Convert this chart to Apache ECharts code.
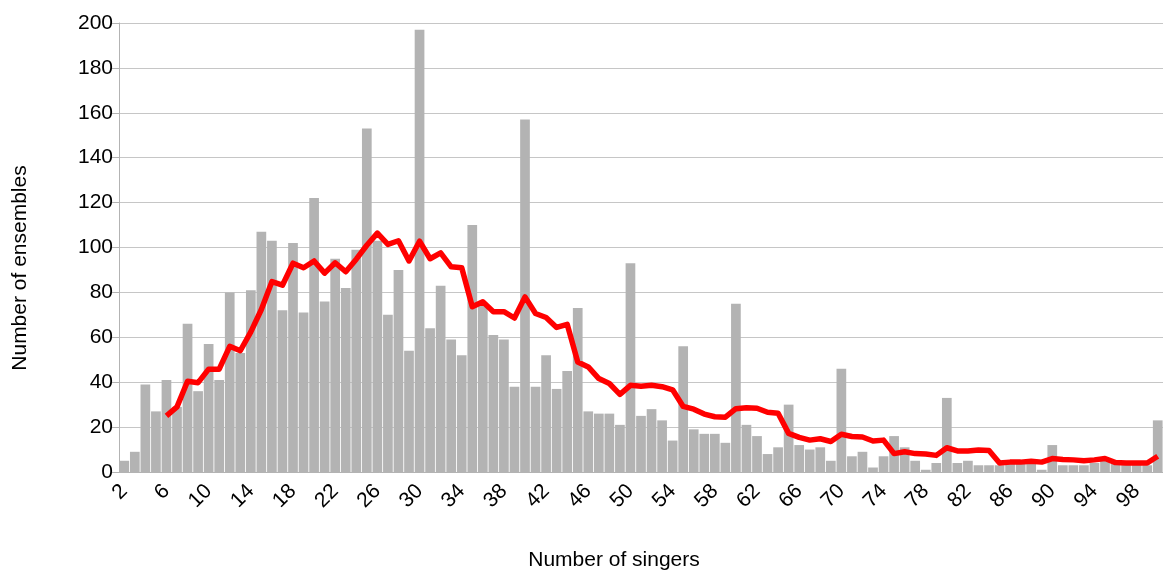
<!DOCTYPE html>
<html>
<head>
<meta charset="utf-8">
<title>Number of singers</title>
<script src="https://cdn.jsdelivr.net/npm/echarts@6/dist/echarts.min.js"></script>
<style>
  html, body { margin: 0; padding: 0; background: #fff; }
  #chart { width: 1163px; height: 572px; }
</style>
</head>
<body>
<div id="chart"></div>
<script>
  // ensemble size (x axis)
  var singers = ['2', '3', '4', '5', '6', '7', '8', '9', '10', '11', '12', '13', '14', '15', '16', '17', '18', '19', '20',
    '21', '22', '23', '24', '25', '26', '27', '28', '29', '30', '31', '32', '33', '34', '35', '36', '37', '38', '39', '40',
    '41', '42', '43', '44', '45', '46', '47', '48', '49', '50', '51', '52', '53', '54', '55', '56', '57', '58', '59', '60',
    '61', '62', '63', '64', '65', '66', '67', '68', '69', '70', '71', '72', '73', '74', '75', '76', '77', '78', '79', '80',
    '81', '82', '83', '84', '85', '86', '87', '88', '89', '90', '91', '92', '93', '94', '95', '96', '97', '98', '99', '100']

  // number of ensembles per size
  var ensembles = [5, 9, 39, 27, 41, 29, 66, 36, 57, 41,
    80, 53, 81, 107, 103, 72, 102, 71, 122, 76,
    95, 82, 99, 153, 103, 70, 90, 54, 197, 64,
    83, 59, 52, 110, 75, 61, 59, 38, 157, 38,
    52, 37, 45, 73, 27, 26, 26, 21, 93, 25,
    28, 23, 14, 56, 19, 17, 17, 13, 75, 21,
    16, 8, 11, 30, 12, 10, 11, 5, 46, 7,
    9, 2, 7, 16, 11, 5, 1, 4, 33, 4,
    5, 3, 3, 3, 5, 5, 4, 1, 12, 3,
    3, 3, 4, 6, 4, 4, 4, 3, 23]

  // red trend line (starts at 6)
  var trend = [null, null, null, null, 25, 29, 40.4, 39.8, 45.8, 45.8,
    56, 54, 62.4, 72.4, 84.8, 83.2, 93, 91, 94, 88.6,
    93.2, 89.2, 94.8, 101, 106.4, 101.4, 103, 94, 102.8, 95,
    97.6, 91.4, 91, 73.6, 75.8, 71.4, 71.4, 68.6, 78, 70.6,
    68.8, 64.4, 65.8, 49, 46.8, 41.6, 39.4, 34.6, 38.6, 38.2,
    38.6, 38, 36.6, 29.2, 28, 25.8, 24.6, 24.4, 28.2, 28.6,
    28.4, 26.6, 26.2, 17.2, 15.4, 14.2, 14.8, 13.6, 16.8, 15.8,
    15.6, 13.8, 14.2, 8.2, 9, 8.2, 8, 7.4, 10.8, 9.4,
    9.4, 9.8, 9.6, 4, 4.4, 4.4, 4.8, 4.4, 6, 5.6,
    5.4, 5, 5.4, 6, 4.2, 4, 4, 4, 7]

  var myChart = echarts.init(document.getElementById('chart'))
  var font = 'Liberation Sans, Arial, sans-serif'

  var option = {
    animation: false,
    backgroundColor: '#fff',
    textStyle: {fontFamily: font},
    grid: {
      left: 119,
      top: 23,
      width: 1048,
      height: 449
    },
    xAxis: {
      type: 'category',
      data: singers,
      axisLine: {lineStyle: {color: '#b3b3b3', width: 1}},
      axisTick: {interval: 0, length: 6, lineStyle: {color: '#b3b3b3'}},
      axisLabel: {
        interval: 3,
        rotate: 45,
        margin: 16,
        color: '#000',
        fontSize: 21,
        fontFamily: font
      },
      splitLine: {show: false}
    },
    yAxis: {
      type: 'value',
      min: 0,
      max: 200,
      interval: 20,
      axisLine: {show: true, lineStyle: {color: '#b3b3b3', width: 1}},
      axisTick: {show: true, length: 8, lineStyle: {color: '#b3b3b3'}},
      axisLabel: {color: '#000', fontSize: 21, margin: 6, fontFamily: font},
      splitLine: {lineStyle: {color: '#c6c6c6', width: 1}}
    },
    series: [
      {
        name: 'ensembles',
        type: 'bar',
        data: ensembles,
        barCategoryGap: '8%',
        itemStyle: {color: '#b3b3b3'}
      },
      {
        name: 'trend',
        type: 'line',
        data: trend,
        showSymbol: false,
        symbol: 'none',
        connectNulls: false,
        lineStyle: {color: '#ff0000', width: 5.5, join: 'round'},
        z: 5
      }
    ],
    graphic: [
      //y axis title
      {
        type: 'text',
        x: 20,
        y: 268,
        rotation: Math.PI / 2,
        style: {
          text: 'Number of ensembles',
          x: 0,
          y: 0,
          align: 'center',
          verticalAlign: 'middle',
          fill: '#000',
          font: '21px ' + font
        }
      },
      //x axis title
      {
        type: 'text',
        x: 614,
        y: 560,
        style: {
          text: 'Number of singers',
          x: 0,
          y: 0,
          align: 'center',
          verticalAlign: 'middle',
          fill: '#000',
          font: '21px ' + font
        }
      }
    ]
  }
  myChart.setOption(option, true)
</script>
</body>
</html>
